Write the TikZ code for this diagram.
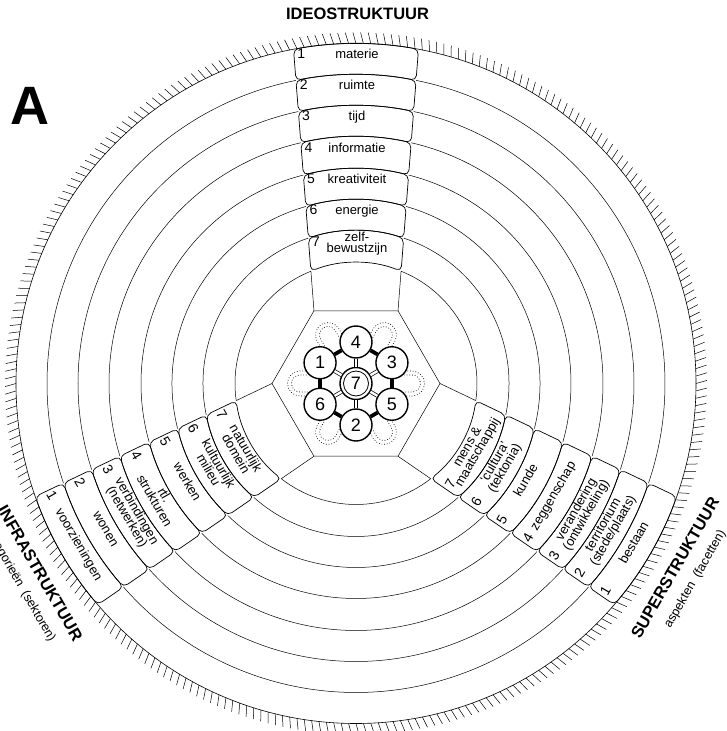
\documentclass[tikz,border=0pt]{standalone}
\usepackage{fontspec}
\setmainfont{Liberation Sans}
\tikzset{
 ring/.style={line width=0.5pt},
 boxline/.style={line width=0.7pt, rounded corners=5pt},
 lab/.style={font=\fontsize{13}{13}\selectfont, inner sep=0pt},
 numst/.style={font=\fontsize{14}{14}\selectfont, inner sep=0pt},
 ttl/.style={font=\fontsize{16.5}{18}\selectfont\bfseries, inner sep=0pt},
 subttl/.style={font=\fontsize{12.5}{14}\selectfont, inner sep=0pt},
 cnode/.style={circle, draw, line width=1.4pt, fill=white, minimum size=32pt, inner sep=0pt, font=\fontsize{18}{18}\selectfont},
 bar/.style={line width=3.8pt},
 dbl/.style={double, double distance=2.4pt, line width=0.7pt},
 lobe/.style={dotted, line width=0.7pt},
}
% #1 axis angle, #2 text rotation, #3 mid radius, #4 half width, #5 number, #6 line1, #7 line2
\newcommand\bx[7]{%
 \begin{scope}[shift={(#1:#3pt)}, rotate=#2, transform shape]
  \node[numst] at ({-(#4-7)},5) {#5};
  \ifx\relax#7\relax
    \node[lab, anchor=base] at (1,0) {#6};
  \else
    \node[lab, anchor=base] at (1,5) {#6};
    \node[lab, anchor=base] at (1,-6.5) {#7};
  \fi
 \end{scope}}
\begin{document}
\begin{tikzpicture}[x=1pt,y=1pt]
\useasboundingbox (-356,-347.5) rectangle (371,383.5);
\fill[white] (-356,-347.5) rectangle (371,383.5);

% tick ring
\foreach \a in {0,1.25,...,358.75}
  \draw[line width=0.5pt] (\a:340pt) -- (\a+0.5:351pt);
\draw[ring, line width=0.6pt] (0,0) circle[radius=340pt];

% circle arcs between the columns
\foreach \R/\al in {309/11.21, 278/11.96, 247/12.91, 215/14.17, 184/15.83, 153/18.16, 121/21.88}
  \foreach \rh in {0,120,240}
    \draw[ring] (90+\rh+\al:\R pt) arc[start angle=90+\rh+\al, end angle=210+\rh-\al, radius=\R pt];

% hexagon
\draw[ring] (0:84pt) -- (60:84pt) -- (120:84pt) -- (180:84pt) -- (240:84pt) -- (300:84pt) -- cycle;

% columns of boxes
\foreach \rh in {0,120,240}{
 \begin{scope}[rotate=\rh]
   \draw[ring] (60:84pt) -- (90-21.88:121pt);
   \draw[ring] (120:84pt) -- (90+21.88:121pt);
   \foreach \Ro/\ao/\Ri/\ai in {340/10.59/309/11.21, 309/11.21/278/11.96, 278/11.96/247/12.91, 247/12.91/215/14.17, 215/14.17/184/15.83, 184/15.83/153/18.16, 153/18.16/121/21.88}
     \draw[boxline] (90+\ao:\Ro pt) arc[start angle=90+\ao, end angle=90-\ao, radius=\Ro pt]
        -- (90-\ai:\Ri pt) arc[start angle=90-\ai, end angle=90+\ai, radius=\Ri pt] -- cycle;
 \end{scope}
}

% box texts: top column
\bx{90}{0}{324.5}{61.7}{1}{materie}{}
\bx{90}{0}{293.5}{59.3}{2}{ruimte}{}
\bx{90}{0}{262.5}{56.9}{3}{tijd}{}
\bx{90}{0}{231}{54.4}{4}{informatie}{}
\bx{90}{0}{199.5}{51.9}{5}{kreativiteit}{}
\bx{90}{0}{168.5}{49.5}{6}{energie}{}
\bx{90}{0}{137}{47}{7}{zelf-}{bewustzijn}
% lower left column
\bx{210}{-60}{324.5}{61.7}{1}{voorzieningen}{}
\bx{210}{-60}{293.5}{59.3}{2}{wonen}{}
\bx{210}{-60}{262.5}{56.9}{3}{verbindingen}{(netwerken)}
\bx{210}{-60}{231}{54.4}{4}{rtl.}{strukturen}
\bx{210}{-60}{199.5}{51.9}{5}{werken}{}
\bx{210}{-60}{168.5}{49.5}{6}{kultuurlijk}{milieu}
\bx{210}{-60}{137}{47}{7}{natuurlijk}{domein}
% lower right column
\bx{330}{60}{324.5}{61.7}{1}{bestaan}{}
\bx{330}{60}{293.5}{59.3}{2}{territorium}{(stede/plaats)}
\bx{330}{60}{262.5}{56.9}{3}{verandering}{(ontwikkeling)}
\bx{330}{60}{231}{54.4}{4}{zeggenschap}{}
\bx{330}{60}{199.5}{51.9}{5}{kunde}{}
\bx{330}{60}{168.5}{49.5}{6}{`cultura'}{(tektonia)}
\bx{330}{60}{137}{47}{7}{mens \&}{maatschappij}

% dotted lobes
\foreach \p in {0,60,...,300}{
 \begin{scope}[rotate=\p]
  \draw[lobe] (46,12.5) -- (56,12.5) arc[start angle=90, end angle=-90, radius=12.5pt] -- (46,-12.5);
  \draw[lobe] (48,8.5) -- (56,8.5) arc[start angle=90, end angle=-90, radius=8.5pt] -- (48,-8.5);
 \end{scope}
}

% central graph
\node[cnode] (n7) at (0,0) {7};
\draw[line width=0.8pt] (0,0) circle[radius=12.5pt];
\node[cnode] (n4) at (90:41.5pt) {4};
\node[cnode] (n3) at (30:41.5pt) {3};
\node[cnode] (n5) at (-30:41.5pt) {5};
\node[cnode] (n2) at (-90:41.5pt) {2};
\node[cnode] (n6) at (210:41.5pt) {6};
\node[cnode] (n1) at (150:41.5pt) {1};
\draw[bar] (n1) -- (n4);
\draw[bar] (n4) -- (n3);
\draw[bar] (n3) -- (n5);
\draw[bar] (n5) -- (n2);
\draw[bar] (n2) -- (n6);
\draw[bar] (n6) -- (n1);
\foreach \n in {n1,n2,n3,n4,n5,n6}
  \draw[dbl] (n7) -- (\n);

% titles
\node[ttl, anchor=base] (tI) at (1.5,363.5) {IDEOSTRUKTUUR};
\node[anchor=base, inner sep=0pt, font=\fontsize{54}{54}\selectfont\bfseries] (tA) at (-325.5,258.5) {A};
\node[ttl, anchor=base, rotate=-60] (tInf) at (211:374pt) {INFRASTRUKTUUR};
\node[subttl, anchor=base, rotate=-60] (sInf) at (211:395pt) {kategorieën\ \ (sektoren)};
\node[ttl, anchor=base, rotate=60] (tSup) at (330:374pt) {SUPERSTRUKTUUR};
\node[subttl, anchor=base, rotate=60] (sSup) at (330:395pt) {aspekten\ \ (facetten)};
\end{tikzpicture}
\end{document}
